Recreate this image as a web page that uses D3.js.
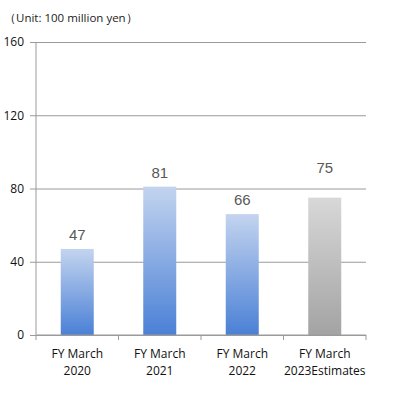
<!DOCTYPE html>
<html><head><meta charset="utf-8">
<script src="https://cdn.jsdelivr.net/npm/d3@7"></script>
<style>body{margin:0;background:#fff}svg{display:block}</style>
</head><body>
<script>
const categories = [["FY March","2020"],["FY March","2021"],["FY March","2022"],["FY March","2023Estimates"]];
const values = [47, 81, 66, 75];
const estimate = [false, false, false, true];
const yTicks = [0, 40, 80, 120, 160];
const unitLabel = "（Unit: 100 million yen）";

const W = 394, H = 394;
const m = {left: 36, right: 28, top: 42, bottom: 59};
const svg = d3.select("body").append("svg").attr("width", W).attr("height", H);
const defs = svg.append("defs");
const gb = defs.append("linearGradient").attr("id","gBlue").attr("x1",0).attr("y1",0).attr("x2",0).attr("y2",1);
gb.append("stop").attr("offset","0%").attr("stop-color","#c3d4ef");
gb.append("stop").attr("offset","100%").attr("stop-color","#4a80d6");
const gg = defs.append("linearGradient").attr("id","gGray").attr("x1",0).attr("y1",0).attr("x2",0).attr("y2",1);
gg.append("stop").attr("offset","0%").attr("stop-color","#d8d8d8");
gg.append("stop").attr("offset","100%").attr("stop-color","#a3a3a3");

const x = d3.scaleBand().domain(d3.range(values.length)).range([m.left, W - m.right]).paddingInner(0.6).paddingOuter(0.3);
const y = d3.scaleLinear().domain([0,160]).range([H - m.bottom, m.top]);

const font = "'Open Sans', sans-serif";
svg.append("text").attr("x", 4).attr("y", 22).attr("font-family", font).attr("font-size", 11.5).attr("fill","#222").text(unitLabel);

// gridlines & y axis
const yAxis = d3.axisLeft(y).tickValues(yTicks).tickSize(-(W - m.left - m.right)).tickSizeOuter(0).tickPadding(12);
const gy = svg.append("g").attr("transform", `translate(${m.left},0)`).call(yAxis);
gy.select(".domain").remove();
gy.selectAll(".tick line").attr("stroke","#9a9a9a").attr("x1", -6);
gy.selectAll(".tick text").attr("font-family", font).attr("font-size", 12).attr("fill","#111").attr("x", -12);
svg.append("line").attr("x1", m.left).attr("x2", m.left).attr("y1", y(160)).attr("y2", y(0)).attr("stroke","#9a9a9a");

// bars
svg.selectAll("rect.bar").data(values).join("rect").attr("class","bar")
  .attr("x", (d,i) => x(i)).attr("width", x.bandwidth())
  .attr("y", d => y(d)).attr("height", d => y(0) - y(d))
  .attr("fill", (d,i) => estimate[i] ? "url(#gGray)" : "url(#gBlue)");

// bottom axis
const step = x.step();
const gx = svg.append("g");
gx.append("line").attr("x1", m.left).attr("x2", W - m.right).attr("y1", y(0)).attr("y2", y(0)).attr("stroke","#9a9a9a");
d3.range(values.length + 1).forEach(k => {
  const xx = m.left + k * step;
  gx.append("line").attr("x1", xx).attr("x2", xx).attr("y1", y(0)).attr("y2", y(0) + 5).attr("stroke","#9a9a9a");
});
categories.forEach((c, i) => {
  const cx = x(i) + x.bandwidth()/2;
  const t = gx.append("text").attr("text-anchor","middle").attr("font-family", font).attr("font-size", 12).attr("fill","#111");
  t.append("tspan").attr("x", cx).attr("y", 358).text(c[0]);
  t.append("tspan").attr("x", cx).attr("y", 375).text(c[1]);
});

// value labels (estimate label sits above the 80 gridline)
svg.selectAll("text.val").data(values).join("text").attr("class","val")
  .attr("x", (d,i) => x(i) + x.bandwidth()/2).attr("y", (d,i) => y(d) - (estimate[i] ? 25 : 9))
  .attr("text-anchor","middle").attr("font-family","'Liberation Sans', Arial, sans-serif").attr("font-size", 15).attr("fill","#595959")
  .text(d => d);
</script>
</body></html>
